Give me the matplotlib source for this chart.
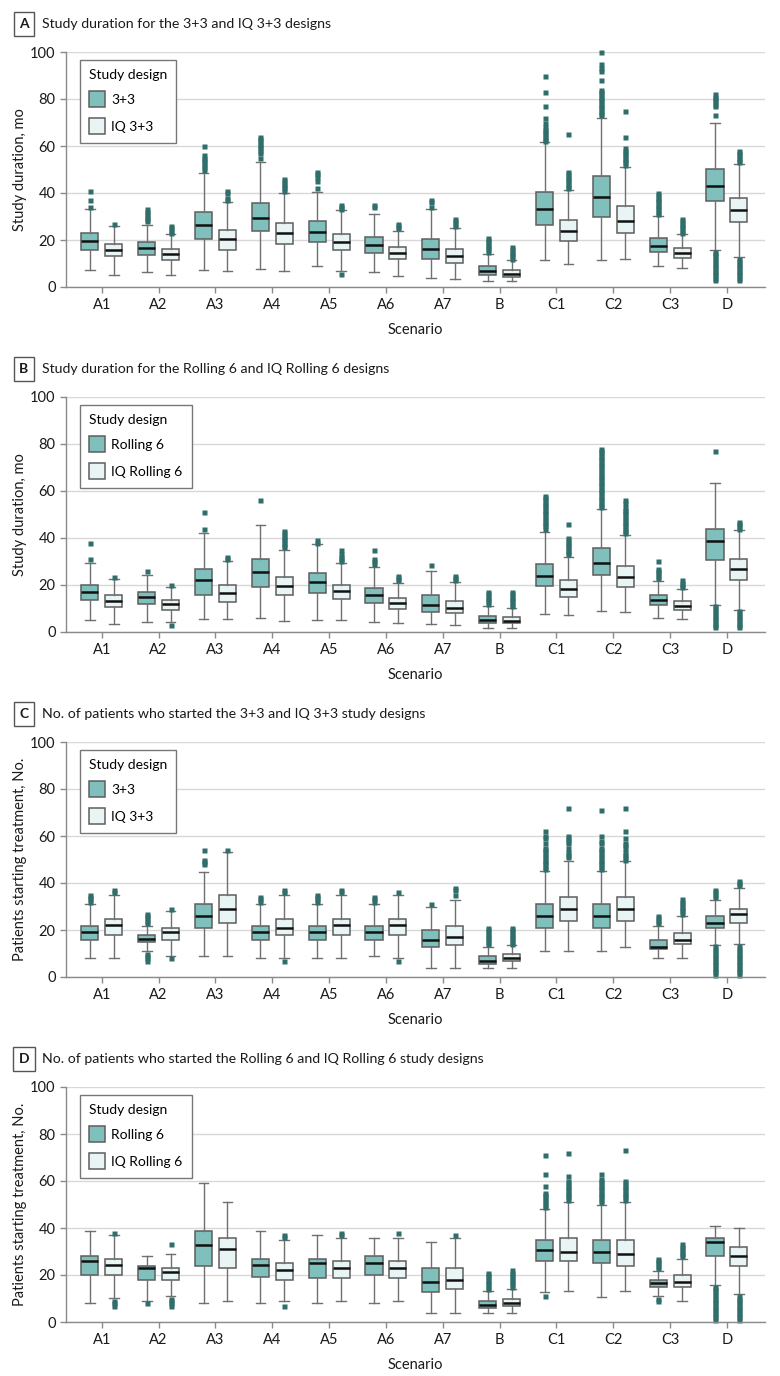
import matplotlib
matplotlib.use("Agg")
import matplotlib.pyplot as plt
from matplotlib.patches import Patch

plt.rcParams['font.family'] = ['Lato', 'DejaVu Sans']

scenarios = ['A1', 'A2', 'A3', 'A4', 'A5', 'A6', 'A7', 'B', 'C1', 'C2', 'C3', 'D']

# ---------------- Panel A: study duration, 3+3 vs IQ 3+3 ----------------
a_std_lo  = [7.1, 6.4, 7.4, 7.7, 8.8, 6.4, 3.8, 2.7, 11.3, 11.3, 8.9, 15.9]
a_std_q1  = [15.7, 13.5, 20.4, 24.0, 19.1, 14.5, 11.9, 5.2, 26.2, 29.9, 14.8, 36.5]
a_std_med = [19.7, 16.6, 26.4, 29.4, 23.4, 18.0, 16.2, 7.0, 33.3, 38.4, 17.4, 43.0]
a_std_q3  = [23.0, 19.1, 32.0, 35.7, 28.1, 21.3, 20.6, 9.1, 40.4, 47.1, 21.0, 50.2]
a_std_hi  = [33.2, 26.5, 48.7, 53.3, 40.5, 31.0, 33.3, 14.0, 61.7, 71.8, 30.2, 69.8]
a_std_out = [
    [34, 37, 41],
    [28, 29, 30, 31, 32, 33],
    [50, 51, 52, 53, 54, 55, 56, 60],
    [55, 57, 58, 59, 60, 61, 62, 63, 64],
    [42, 45, 47, 48, 49],
    [34, 35],
    [34, 36, 37],
    [15, 16, 17, 18, 19, 20, 21],
    [62, 63, 64, 65, 66, 67, 68, 70, 72, 77, 83, 90],
    [73, 74, 75, 76, 77, 78, 79, 80, 81, 82, 83, 84, 88, 92, 93, 95, 100],
    [31, 32, 33, 34, 35, 36, 37, 38, 39, 40],
    [73, 77, 78, 79, 80, 81, 82, 3, 4, 5, 6, 7, 8, 9, 10, 11, 12, 13, 14, 15],
]
a_iq_lo  = [5.2, 5.1, 7.0, 7.0, 7.0, 4.8, 3.4, 2.4, 9.9, 12.0, 8.2, 12.6]
a_iq_q1  = [13.0, 11.5, 15.9, 18.3, 15.9, 11.9, 10.2, 4.3, 19.7, 23.0, 12.3, 27.5]
a_iq_med = [15.9, 14.0, 20.4, 23.0, 19.1, 14.5, 13.0, 5.7, 23.7, 28.2, 14.5, 32.9]
a_iq_q3  = [18.3, 16.2, 24.3, 27.2, 22.6, 16.9, 16.2, 7.2, 28.5, 34.3, 16.6, 37.9]
a_iq_hi  = [26.1, 22.4, 36.3, 40.0, 32.6, 24.0, 25.0, 11.3, 41.3, 50.9, 22.7, 52.3]
a_iq_out = [
    [27],
    [23, 24, 25, 26],
    [37, 38, 40, 41],
    [41, 42, 43, 44, 45, 46],
    [33, 34, 35, 5.5],
    [25, 26, 27],
    [26, 27, 28, 29],
    [12, 13, 14, 15, 16, 17],
    [42, 43, 44, 45, 46, 47, 48, 49, 65],
    [52, 53, 54, 55, 56, 57, 58, 59, 64, 75],
    [23, 24, 25, 26, 27, 28, 29],
    [53, 54, 55, 56, 57, 58, 3, 4, 5, 6, 7, 8, 9, 10, 11, 12],
]

# ---------------- Panel B: study duration, Rolling 6 vs IQ Rolling 6 ----------------
b_std_lo  = [5.1, 4.3, 5.7, 6.0, 5.2, 4.3, 3.4, 1.7, 7.5, 8.8, 6.0, 11.5]
b_std_q1  = [13.6, 11.8, 15.6, 19.3, 16.6, 12.3, 8.5, 3.8, 19.6, 24.3, 11.5, 30.8]
b_std_med = [17.0, 14.8, 22.0, 25.5, 21.3, 15.9, 11.6, 5.1, 24.0, 29.4, 13.6, 38.7]
b_std_q3  = [20.0, 16.9, 26.7, 30.9, 25.0, 18.7, 15.7, 6.8, 28.9, 35.7, 15.7, 43.8]
b_std_hi  = [29.4, 24.1, 42.1, 45.4, 37.4, 27.8, 26.1, 10.9, 42.6, 52.3, 21.8, 63.3]
b_std_out = [
    [31, 38],
    [26],
    [44, 51],
    [56],
    [38, 39],
    [29, 30, 31, 35],
    [28.5],
    [12, 13, 14, 15, 16, 17],
    [44, 45, 46, 47, 48, 49, 50, 51, 52, 53, 54, 55, 56, 57, 58],
    [53, 54, 55, 56, 57, 58, 59, 60, 61, 62, 63, 64, 65, 66, 67, 68, 69, 70, 71, 72,
     73, 74, 75, 76, 77, 78],
    [23, 24, 25, 26, 27, 30],
    [77, 2, 3, 4, 5, 6, 7, 8, 9, 10, 11],
]
b_iq_lo  = [3.4, 4.3, 5.5, 4.5, 5.2, 3.8, 2.8, 1.7, 7.4, 8.5, 5.5, 9.4]
b_iq_q1  = [10.8, 9.4, 12.8, 15.6, 14.0, 9.9, 7.9, 3.7, 15.0, 19.1, 9.4, 22.1]
b_iq_med = [13.3, 11.8, 16.6, 19.7, 17.3, 12.2, 10.4, 4.8, 18.3, 23.3, 11.2, 26.8]
b_iq_q3  = [15.7, 13.6, 20.0, 23.5, 20.1, 14.5, 13.3, 6.4, 22.1, 28.2, 13.0, 30.9]
b_iq_hi  = [22.6, 19.0, 30.2, 34.9, 29.4, 20.9, 21.3, 10.2, 31.8, 41.4, 18.3, 43.4]
b_iq_out = [
    [23.4],
    [20, 3],
    [31, 32],
    [36, 37, 38, 39, 40, 41, 42, 43],
    [30, 31, 32, 33, 35],
    [22, 23, 24],
    [22, 23, 24],
    [11, 12, 13, 14, 15, 16, 17],
    [33, 34, 35, 36, 37, 38, 39, 40, 46],
    [42, 43, 44, 45, 46, 47, 48, 49, 50, 51, 52, 53, 55, 56],
    [19, 20, 21, 22],
    [44, 45, 46, 47, 2, 3, 4, 5, 6, 7, 8, 9],
]

# ---------------- Panel C: patients, 3+3 vs IQ 3+3 ----------------
c_std_lo  = [7.9, 10.9, 8.9, 7.9, 7.9, 8.9, 3.7, 3.7, 10.9, 10.9, 7.9, 13.7]
c_std_q1  = [15.7, 14.9, 20.7, 15.7, 15.7, 15.7, 12.7, 5.7, 20.9, 20.9, 11.9, 20.9]
c_std_med = [19.0, 16.0, 25.9, 19.0, 19.0, 19.0, 15.9, 6.9, 25.9, 25.9, 12.9, 23.0]
c_std_q3  = [21.9, 17.9, 30.9, 21.9, 21.9, 21.9, 20.0, 8.9, 30.9, 31.1, 15.7, 25.9]
c_std_hi  = [30.9, 21.9, 44.7, 30.9, 30.9, 30.9, 30.0, 12.7, 45.0, 45.1, 21.9, 32.9]
c_std_out = [
    [32, 33, 34, 35],
    [23, 24, 25, 26, 27, 7, 8, 9, 10],
    [48, 49, 50, 54],
    [32, 33, 34],
    [32, 33, 34, 35],
    [32, 33, 34],
    [31],
    [14, 15, 16, 17, 18, 19, 20, 21],
    [46, 47, 48, 49, 50, 51, 52, 53, 54, 55, 57, 59, 60, 62],
    [46, 47, 48, 49, 50, 51, 52, 53, 54, 55, 57, 58, 60, 71],
    [23, 24, 25, 26],
    [34, 35, 36, 37, 1, 2, 3, 4, 5, 6, 7, 8, 9, 10, 11, 12, 13],
]
c_iq_lo  = [7.9, 9.0, 8.9, 7.9, 7.9, 7.9, 3.7, 3.7, 10.9, 12.9, 7.9, 14.0]
c_iq_q1  = [17.9, 15.7, 22.9, 17.9, 17.9, 17.9, 13.7, 6.9, 23.9, 23.9, 13.9, 23.0]
c_iq_med = [22.0, 19.0, 29.0, 20.9, 22.0, 22.0, 16.9, 8.0, 29.0, 29.0, 15.9, 26.6]
c_iq_q3  = [24.7, 20.9, 35.0, 24.7, 24.7, 24.7, 21.9, 9.7, 34.0, 34.0, 18.7, 29.1]
c_iq_hi  = [35.0, 27.9, 53.0, 35.0, 35.0, 35.0, 32.9, 13.7, 49.3, 49.3, 26.1, 38.0]
c_iq_out = [
    [36, 37],
    [29, 8],
    [54],
    [36, 37, 7],
    [36, 37],
    [36, 7],
    [35, 37, 38],
    [14, 15, 16, 17, 18, 19, 20, 21],
    [51, 52, 53, 55, 57, 58, 59, 60, 72],
    [50, 51, 52, 53, 55, 56, 57, 59, 62, 72],
    [27, 28, 29, 30, 31, 32, 33],
    [39, 40, 41, 1, 2, 3, 4, 5, 6, 7, 8, 9, 10, 11, 12, 13],
]

# ---------------- Panel D: patients, Rolling 6 vs IQ Rolling 6 ----------------
d_std_lo  = [7.9, 8.9, 7.9, 7.9, 7.9, 7.9, 3.8, 4.0, 12.9, 10.8, 10.9, 15.9]
d_std_q1  = [20.0, 17.9, 23.8, 19.0, 18.9, 20.0, 12.9, 6.0, 25.8, 25.0, 15.0, 27.9]
d_std_med = [26.0, 23.0, 32.9, 24.1, 25.1, 25.1, 17.0, 7.1, 30.8, 29.9, 16.6, 33.9]
d_std_q3  = [28.1, 23.8, 38.7, 26.8, 26.8, 27.9, 22.8, 8.9, 34.9, 34.9, 17.9, 35.9]
d_std_hi  = [38.9, 27.9, 59.0, 38.9, 36.9, 35.7, 33.9, 13.0, 48.1, 49.9, 21.8, 40.9]
d_std_out = [
    [],
    [8],
    [],
    [],
    [],
    [],
    [],
    [14, 15, 16, 17, 18, 19, 20, 21],
    [49, 50, 51, 52, 53, 54, 55, 58, 63, 71, 11],
    [51, 52, 53, 54, 55, 56, 57, 58, 59, 60, 61, 63],
    [23, 24, 25, 26, 27, 9, 10],
    [1, 2, 3, 4, 5, 6, 7, 8, 9, 10, 11, 12, 13, 14, 15],
]
d_iq_lo  = [10.1, 11.1, 8.9, 8.9, 8.9, 8.9, 3.8, 4.0, 13.0, 13.0, 9.1, 11.9]
d_iq_q1  = [20.0, 17.9, 22.8, 17.9, 18.9, 18.9, 13.9, 7.0, 26.0, 23.8, 14.9, 23.8]
d_iq_med = [24.1, 21.1, 30.9, 22.0, 23.0, 23.0, 17.9, 8.2, 29.9, 28.9, 17.0, 27.9]
d_iq_q3  = [26.8, 23.0, 35.9, 25.1, 26.0, 25.8, 22.8, 9.8, 35.9, 34.9, 20.0, 31.9]
d_iq_hi  = [37.0, 28.9, 50.9, 34.9, 35.9, 35.7, 35.7, 13.9, 50.9, 50.9, 26.8, 39.9]
d_iq_out = [
    [38, 7, 8, 9],
    [33, 7, 8, 9, 10],
    [],
    [36, 37, 7],
    [37, 38],
    [38],
    [37],
    [15, 16, 17, 18, 19, 20, 21, 22],
    [52, 53, 54, 55, 56, 57, 58, 59, 60, 62, 72],
    [52, 53, 54, 55, 56, 57, 58, 59, 60, 73],
    [28, 29, 30, 31, 32, 33],
    [1, 2, 3, 4, 5, 6, 7, 8, 9, 10, 11],
]

panels = [
    dict(letter='A', title='Study duration for the 3+3 and IQ 3+3 designs',
         ylabel='Study duration, mo', names=['3+3', 'IQ 3+3'],
         std=(a_std_lo, a_std_q1, a_std_med, a_std_q3, a_std_hi, a_std_out),
         iq=(a_iq_lo, a_iq_q1, a_iq_med, a_iq_q3, a_iq_hi, a_iq_out), top=52),
    dict(letter='B', title='Study duration for the Rolling 6 and IQ Rolling 6 designs',
         ylabel='Study duration, mo', names=['Rolling 6', 'IQ Rolling 6'],
         std=(b_std_lo, b_std_q1, b_std_med, b_std_q3, b_std_hi, b_std_out),
         iq=(b_iq_lo, b_iq_q1, b_iq_med, b_iq_q3, b_iq_hi, b_iq_out), top=397),
    dict(letter='C', title='No. of patients who started the 3+3 and IQ 3+3 study designs',
         ylabel='Patients starting treatment, No.', names=['3+3', 'IQ 3+3'],
         std=(c_std_lo, c_std_q1, c_std_med, c_std_q3, c_std_hi, c_std_out),
         iq=(c_iq_lo, c_iq_q1, c_iq_med, c_iq_q3, c_iq_hi, c_iq_out), top=742),
    dict(letter='D', title='No. of patients who started the Rolling 6 and IQ Rolling 6 study designs',
         ylabel='Patients starting treatment, No.', names=['Rolling 6', 'IQ Rolling 6'],
         std=(d_std_lo, d_std_q1, d_std_med, d_std_q3, d_std_hi, d_std_out),
         iq=(d_iq_lo, d_iq_q1, d_iq_med, d_iq_q3, d_iq_hi, d_iq_out), top=1087),
]

TEAL = '#80c0bc'
LIGHT = '#e9f4f4'
EDGE = '#5e5e5e'
WHISK = '#707070'
OUTC = '#2f6e6a'
GRID = '#d8d8d8'
SPINE = '#8a8a8a'
TXT = '#1a1a1a'

W, H = 780, 1376
fig = plt.figure(figsize=(W / 100, H / 100), dpi=100)


def make_stats(lo, q1, med, q3, hi, out):
    return [dict(whislo=lo[i], q1=q1[i], med=med[i], q3=q3[i], whishi=hi[i],
                 fliers=out[i]) for i in range(len(lo))]


x_left, x_right = 66, 765
ax_h = 235
for p in panels:
    top = p['top']
    ax = fig.add_axes([x_left / W, 1 - (top + ax_h) / H, (x_right - x_left) / W, ax_h / H])
    pos = list(range(len(scenarios)))
    for stats_src, fill, off in ((p['std'], TEAL, -0.21), (p['iq'], LIGHT, 0.21)):
        st = make_stats(*stats_src)
        ax.bxp(st, positions=[x + off for x in pos], widths=0.3, capwidths=0.17,
               patch_artist=True, showfliers=True, manage_ticks=False,
               boxprops=dict(facecolor=fill, edgecolor=EDGE, linewidth=1.1),
               medianprops=dict(color='#111111', linewidth=1.8),
               whiskerprops=dict(color=WHISK, linewidth=1.0),
               capprops=dict(color=WHISK, linewidth=1.0),
               flierprops=dict(marker='s', markersize=3.6, markerfacecolor=OUTC,
                               markeredgecolor='none', linestyle='none'))
    ax.set_xlim(-0.63, 11.67)
    ax.set_ylim(0, 100)
    ax.set_yticks([0, 20, 40, 60, 80, 100])
    ax.set_xticks(pos)
    ax.set_xticklabels(scenarios)
    ax.yaxis.grid(True, color=GRID, linewidth=1.0)
    ax.set_axisbelow(True)
    for s in ('top', 'right'):
        ax.spines[s].set_visible(False)
    for s in ('left', 'bottom'):
        ax.spines[s].set_color(SPINE)
        ax.spines[s].set_linewidth(1.0)
    ax.tick_params(axis='both', colors=SPINE, labelcolor=TXT, labelsize=10.5,
                   length=4, width=1.0, direction='out')
    ax.tick_params(axis='x', pad=4)
    for ln in ax.get_lines():
        ln.set_clip_on(False)
    ax.set_xlabel('Scenario', fontsize=10.5, color=TXT, labelpad=8)
    ax.set_ylabel(p['ylabel'], fontsize=10.5, color=TXT)
    ax.yaxis.set_label_coords(-0.056, 0.5)

    handles = [Patch(facecolor=TEAL, edgecolor=EDGE, linewidth=1.1),
               Patch(facecolor=LIGHT, edgecolor=EDGE, linewidth=1.1)]
    leg = ax.legend(handles, p['names'], title='Study design', loc='upper left',
                    bbox_to_anchor=(0.02, 0.966), borderaxespad=0, fancybox=False,
                    framealpha=1, edgecolor='#777777', fontsize=10, title_fontsize=10,
                    handlelength=1.15, handleheight=1.4, handletextpad=0.45,
                    labelspacing=0.75, borderpad=0.65, alignment='left')
    leg.get_frame().set_linewidth(1.0)

    ty = 1 - (top - 28) / H
    fig.text(24 / W, ty, p['letter'], fontsize=10, fontweight='bold', ha='center',
             va='center', color=TXT,
             bbox=dict(boxstyle='square,pad=0.4', facecolor='white', edgecolor='#555555',
                       linewidth=1.0))
    fig.text(42 / W, ty, p['title'], fontsize=10.2, ha='left', va='center', color=TXT)

fig.savefig('out.png', dpi=100)
